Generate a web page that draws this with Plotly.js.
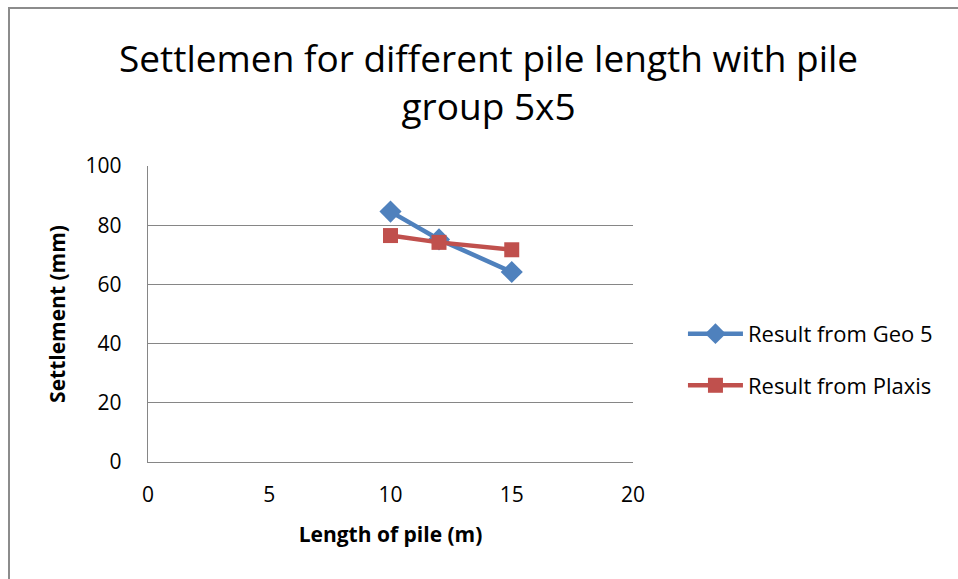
<!DOCTYPE html>
<html>
<head>
<meta charset="utf-8">
<script src="https://cdn.plot.ly/plotly-3.0.1.min.js"></script>
<style>
html,body{margin:0;padding:0;background:#fff;}
#wrap{position:relative;width:958px;height:579px;overflow:hidden;}
#frame{position:absolute;left:8px;top:7px;width:1000px;height:700px;border-left:2px solid #8c8c8c;border-top:2px solid #8c8c8c;pointer-events:none;}
#chart{position:absolute;left:0;top:0;width:958px;height:579px;}
</style>
</head>
<body>
<div id="wrap"><div id="chart"></div><div id="frame"></div></div>
<script>
const pileLength = [10, 12, 15];
const geo5 = [84.6, 75.2, 64.2];
const plaxis = [76.5, 74.2, 71.7];
const seriesNames = ["Result from Geo 5", "Result from Plaxis"];
const xTicks = [0, 5, 10, 15, 20];
const yTicks = [0, 20, 40, 60, 80, 100];

const FONT = "Open Sans, Liberation Sans, sans-serif";

const traces = [
  {x: pileLength, y: geo5, name: seriesNames[0], mode: "lines+markers", legendgroup: "a",
   line: {color: "#4F81BD", width: 4.5}, marker: {symbol: "diamond", size: 17, color: "#4F81BD"}},
  {x: pileLength, y: plaxis, name: seriesNames[1], mode: "lines+markers", legendgroup: "b",
   line: {color: "#C0504D", width: 4.5}, marker: {symbol: "square", size: 15, color: "#C0504D"}}
];

const layout = {
  width: 958, height: 579,
  margin: {l: 148, r: 325, t: 166, b: 117},
  paper_bgcolor: "#fff", plot_bgcolor: "#fff",
  font: {family: FONT, color: "#000", size: 21},
  title: {text: "Settlemen for different pile length with pile<br>group 5x5",
          x: 0.51, xref: "container", xanchor: "center",
          y: 0.876, yref: "container", yanchor: "middle",
          font: {size: 37, family: FONT, color: "#000"}},
  xaxis: {range: [0, 20], tickvals: xTicks, ticks: "", showgrid: false, zeroline: false,
          showline: true, linecolor: "#868686", linewidth: 1.3,
          tickfont: {size: 21}, ticklabelstandoff: 13,
          title: {text: "<b>Length of pile (m)</b>", font: {size: 21}, standoff: 20}},
  yaxis: {range: [0, 100], tickvals: yTicks, ticks: "", showgrid: true, gridcolor: "#868686", gridwidth: 1.3,
          zeroline: false, showline: true, linecolor: "#868686", linewidth: 1.3,
          tickfont: {size: 21}, ticklabelstandoff: 21,
          title: {text: "<b>Settlement (mm)</b>", font: {size: 21}, standoff: 14}},
  legend: {x: 1.103, xanchor: "left", y: 0.345, yanchor: "middle", font: {size: 22},
           tracegroupgap: 20, itemwidth: 55, bgcolor: "rgba(0,0,0,0)"},
  showlegend: true
};

Plotly.newPlot("chart", traces, layout, {staticPlot: true, displayModeBar: false});
</script>
</body>
</html>
